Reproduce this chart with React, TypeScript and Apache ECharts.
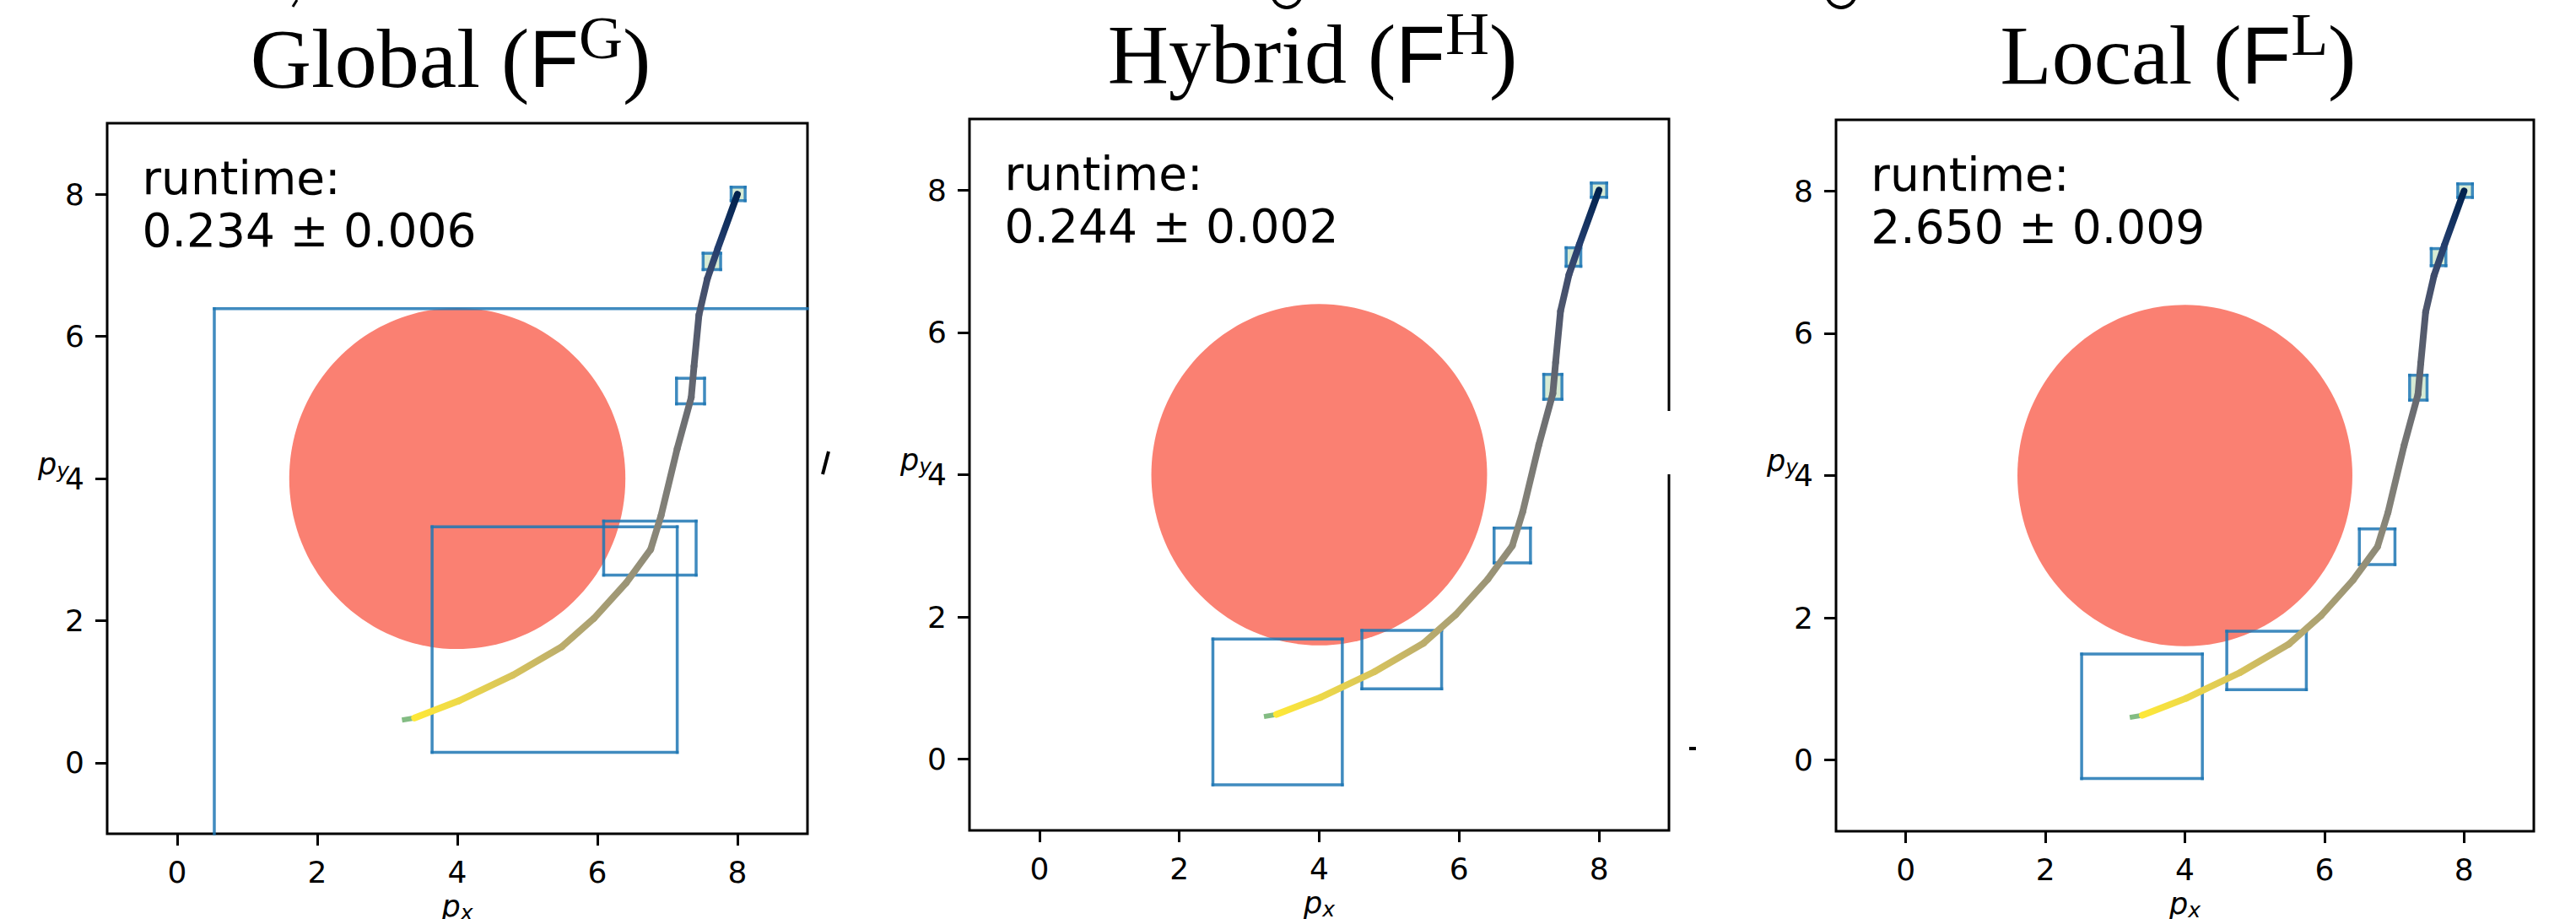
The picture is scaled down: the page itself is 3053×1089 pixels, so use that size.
import React, { useEffect, useRef } from "react";
import * as echarts from "echarts";

// ---------- data ----------
const panelNames = ["Global", "Hybrid", "Local"];
const panelSup = ["G", "H", "L"];
const runtimeMean = ["0.234", "0.244", "2.650"];
const runtimeStd = ["0.006", "0.002", "0.009"];

const tickValues = [0, 2, 4, 6, 8];
const axisMin = -1;
const axisMax = 9;

// trajectory (shared by all panels)
const trajX = [3.39, 4.02, 4.79, 5.49, 5.95, 6.41, 6.76, 6.91, 7.14, 7.34, 7.38, 7.45, 7.57, 7.72, 8.0];
const trajY = [0.63, 0.87, 1.23, 1.63, 2.03, 2.53, 3.0, 3.48, 4.42, 5.14, 5.58, 6.3, 6.81, 7.24, 8.0];
const trajT = [0, 0.06, 0.15, 0.25, 0.31, 0.37, 0.43, 0.47, 0.53, 0.6, 0.64, 0.7, 0.76, 0.84, 1.0];
const initX = [3.21, 3.39];
const initY = [0.6, 0.63];

// obstacle
const obstacleX = 4;
const obstacleY = 4;
const obstacleR = 2.4;

// reachable-set boxes [xmin, ymin, xmax, ymax]
const boxesGlobal = [
  [0.53, -1.6, 9.6, 6.39],
  [3.64, 0.145, 7.14, 3.32],
  [6.09, 2.64, 7.41, 3.4],
  [7.13, 5.05, 7.53, 5.41],
  [7.51, 6.94, 7.76, 7.17],
  [7.91, 7.91, 8.11, 8.1],
];
const boxesHybrid = [
  [2.48, -0.36, 4.33, 1.69],
  [4.61, 0.99, 5.75, 1.81],
  [6.5, 2.76, 7.02, 3.25],
  [7.21, 5.06, 7.47, 5.41],
  [7.53, 6.93, 7.74, 7.19],
  [7.89, 7.9, 8.11, 8.1],
];
const boxesLocal = [
  [2.52, -0.26, 4.25, 1.49],
  [4.6, 0.99, 5.74, 1.81],
  [6.5, 2.75, 7.01, 3.25],
  [7.22, 5.06, 7.47, 5.41],
  [7.53, 6.95, 7.74, 7.19],
  [7.91, 7.91, 8.12, 8.1],
];
const panelBoxes = [boxesGlobal, boxesHybrid, boxesLocal];

// ---------- layout / style ----------
const W = 3053;
const H = 1089;
const panels = [
  { left: 127, top: 146, width: 830, height: 842 },
  { left: 1149, top: 141, width: 829, height: 843 },
  { left: 2176, top: 142, width: 827, height: 843 },
];
const boxColor = "rgba(31,119,180,0.85)";
const cividis = ["#00224e", "#123570", "#3b496c", "#575d6d", "#707173", "#8a8779", "#a59c74", "#c3b369", "#e1cc55", "#fee838"];

function hexToRgb(h: string) {
  return [parseInt(h.slice(1, 3), 16), parseInt(h.slice(3, 5), 16), parseInt(h.slice(5, 7), 16)];
}
function cividisR(t: number) {
  const c = Math.min(1, Math.max(0, 1 - t));
  const pos = c * (cividis.length - 1);
  const i = Math.min(cividis.length - 2, Math.floor(pos));
  const f = pos - i;
  const a = hexToRgb(cividis[i]);
  const b = hexToRgb(cividis[i + 1]);
  const m = a.map((v, k) => Math.round(v + (b[k] - v) * f));
  return `rgb(${m[0]},${m[1]},${m[2]})`;
}

function buildOption() {
  const grids = panels.map((p) => ({
    left: p.left,
    top: p.top,
    width: p.width,
    height: p.height,
    show: true,
    borderColor: "#000",
    borderWidth: 3,
    backgroundColor: "transparent",
  }));
  const axisCommon = {
    type: "value",
    min: axisMin,
    max: axisMax,
    axisLine: { show: false, onZero: false },
    splitLine: { show: false },
    axisTick: { show: true, length: 14, lineStyle: { color: "#000", width: 3 }, customValues: tickValues },
    axisLabel: { customValues: tickValues, fontSize: 36, color: "#000", fontFamily: "DejaVu Sans", margin: 27 },
  };
  const xAxes = panels.map((_, i) => ({ ...axisCommon, gridIndex: i }));
  const yAxes = panels.map((_, i) => ({ ...axisCommon, gridIndex: i }));

  const series: any[] = [];
  panels.forEach((_, i) => {
    series.push({
      type: "custom",
      xAxisIndex: i,
      yAxisIndex: i,
      z: 1,
      data: [[obstacleX, obstacleY, obstacleR]],
      renderItem: (params: any, api: any) => {
        const c = api.coord([api.value(0), api.value(1)]);
        const r = api.value(2);
        const rx = api.size([r, 0])[0];
        const ry = api.size([0, r])[1];
        return { type: "ellipse", shape: { cx: c[0], cy: c[1], rx, ry }, style: { fill: "#FA8072" } };
      },
    });
    series.push({
      type: "custom",
      xAxisIndex: i,
      yAxisIndex: i,
      z: 2,
      encode: { x: [0, 2], y: [1, 3] },
      data: panelBoxes[i],
      renderItem: (params: any, api: any) => {
        const x0 = api.value(0), y0 = api.value(1), x1 = api.value(2), y1 = api.value(3);
        const cx0 = Math.max(x0, axisMin), cx1 = Math.min(x1, axisMax);
        const cy0 = Math.max(y0, axisMin), cy1 = Math.min(y1, axisMax);
        const style = { stroke: boxColor, lineWidth: 3.5, fill: null, lineCap: "square" };
        const children: any[] = [];
        if (x1 - x0 < 0.3) {
          const a = api.coord([x0, y1]);
          const b = api.coord([x1, y0]);
          children.push({
            type: "rect",
            shape: { x: a[0], y: a[1], width: b[0] - a[0], height: b[1] - a[1] },
            style: { fill: "rgba(175,215,170,0.5)" },
          });
        }
        const add = (a: number[], b: number[]) => {
          const p = api.coord(a);
          const q = api.coord(b);
          children.push({ type: "line", shape: { x1: p[0], y1: p[1], x2: q[0], y2: q[1] }, style });
        };
        if (x0 >= axisMin && x0 <= axisMax) add([x0, cy0], [x0, cy1]);
        if (x1 >= axisMin && x1 <= axisMax) add([x1, cy0], [x1, cy1]);
        if (y0 >= axisMin && y0 <= axisMax) add([cx0, y0], [cx1, y0]);
        if (y1 >= axisMin && y1 <= axisMax) add([cx0, y1], [cx1, y1]);
        return { type: "group", children };
      },
    });
    series.push({
      type: "line",
      xAxisIndex: i,
      yAxisIndex: i,
      z: 3,
      symbol: "none",
      data: initX.map((x, k) => [x, initY[k]]),
      lineStyle: { color: "rgba(90,165,90,0.75)", width: 6 },
    });
    series.push({
      type: "custom",
      xAxisIndex: i,
      yAxisIndex: i,
      z: 4,
      data: trajX.map((x, k) => [x, trajY[k], trajT[k]]),
      renderItem: (params: any, api: any) => {
        const k = params.dataIndex;
        if (k >= trajX.length - 1) return null;
        const p = api.coord([trajX[k], trajY[k]]);
        const q = api.coord([trajX[k + 1], trajY[k + 1]]);
        const grad = new echarts.graphic.LinearGradient(
          p[0], p[1], q[0], q[1],
          [
            { offset: 0, color: cividisR(trajT[k]) },
            { offset: 1, color: cividisR(trajT[k + 1]) },
          ],
          true
        );
        return {
          type: "line",
          shape: { x1: p[0], y1: p[1], x2: q[0], y2: q[1] },
          style: { stroke: grad, lineWidth: 8, lineCap: "round" },
        };
      },
    });
  });

  const graphics: any[] = [];
  const titleDy = [0, -5, -4];
  panels.forEach((p, i) => {
    const cx = p.left + p.width / 2 - 8;
    graphics.push({
      type: "text",
      x: cx,
      y: 9 + titleDy[i],
      style: {
        text: `{n|${panelNames[i]} (}{f|F}{s|${panelSup[i]}}{n|)}`,
        align: "center",
        verticalAlign: "top",
        rich: {
          n: { fontFamily: "Liberation Serif", fontSize: 100, lineHeight: 120, fill: "#000" },
          f: { fontFamily: "Liberation Sans", fontSize: 96, lineHeight: 120, fill: "#000" },
          s: { fontFamily: "Liberation Serif", fontSize: 72, lineHeight: 40, fill: "#000", verticalAlign: "top" },
        },
      },
    });
    graphics.push({
      type: "text",
      x: p.left + 0.05 * p.width,
      y: p.top + 34,
      style: {
        text: `runtime:\n${runtimeMean[i]} ± ${runtimeStd[i]}`,
        fontFamily: "DejaVu Sans",
        fontSize: 55,
        lineHeight: 62,
        fill: "#000",
        align: "left",
        verticalAlign: "top",
      },
    });
    graphics.push({
      type: "text",
      x: p.left - 82,
      y: p.top + 384,
      style: {
        text: "{p|p}{s|y}",
        align: "left",
        verticalAlign: "top",
        rich: {
          p: { fontFamily: "DejaVu Sans", fontStyle: "italic", fontSize: 35, lineHeight: 40, fill: "#000" },
          s: { fontFamily: "DejaVu Sans", fontStyle: "italic", fontSize: 25, lineHeight: 24, fill: "#000", verticalAlign: "bottom" },
        },
      },
    });
    graphics.push({
      type: "text",
      x: cx + 8,
      y: p.top + p.height + 66,
      style: {
        text: "{p|p}{s|x}",
        align: "center",
        verticalAlign: "top",
        rich: {
          p: { fontFamily: "DejaVu Sans", fontStyle: "italic", fontSize: 35, lineHeight: 40, fill: "#000" },
          s: { fontFamily: "DejaVu Sans", fontStyle: "italic", fontSize: 25, lineHeight: 24, fill: "#000", verticalAlign: "bottom" },
        },
      },
    });
  });
  // stray artifacts from the tiled figure (cut-off neighbours)
  graphics.push({ type: "line", shape: { x1: 982, y1: 535, x2: 975, y2: 562 }, style: { stroke: "#000", lineWidth: 4 } });
  graphics.push({ type: "rect", shape: { x: 1968, y: 487, width: 22, height: 75 }, style: { fill: "#fff" }, z: 100 });
  graphics.push({ type: "rect", shape: { x: 2002, y: 885, width: 8, height: 4 }, style: { fill: "#000" } });
  graphics.push({ type: "line", shape: { x1: 352, y1: 0, x2: 347, y2: 8 }, style: { stroke: "#000", lineWidth: 3 } });
  graphics.push({ type: "arc", shape: { cx: 1525, cy: -8, r: 17, startAngle: 0.3, endAngle: Math.PI - 0.3 }, style: { stroke: "#000", lineWidth: 4, fill: null } });
  graphics.push({ type: "arc", shape: { cx: 2182, cy: -8, r: 17, startAngle: 0.3, endAngle: Math.PI - 0.3 }, style: { stroke: "#000", lineWidth: 4, fill: null } });

  return {
    animation: false,
    backgroundColor: "#fff",
    grid: grids,
    xAxis: xAxes,
    yAxis: yAxes,
    series,
    graphic: { elements: graphics },
  };
}

export default function App() {
  const ref = useRef<HTMLDivElement>(null);
  useEffect(() => {
    document.body.style.margin = "0";
    const chart = echarts.init(ref.current!, null, { renderer: "svg" });
    chart.setOption(buildOption() as any);
    return () => chart.dispose();
  }, []);
  return <div ref={ref} style={{ width: W, height: H, background: "#fff" }} />;
}
